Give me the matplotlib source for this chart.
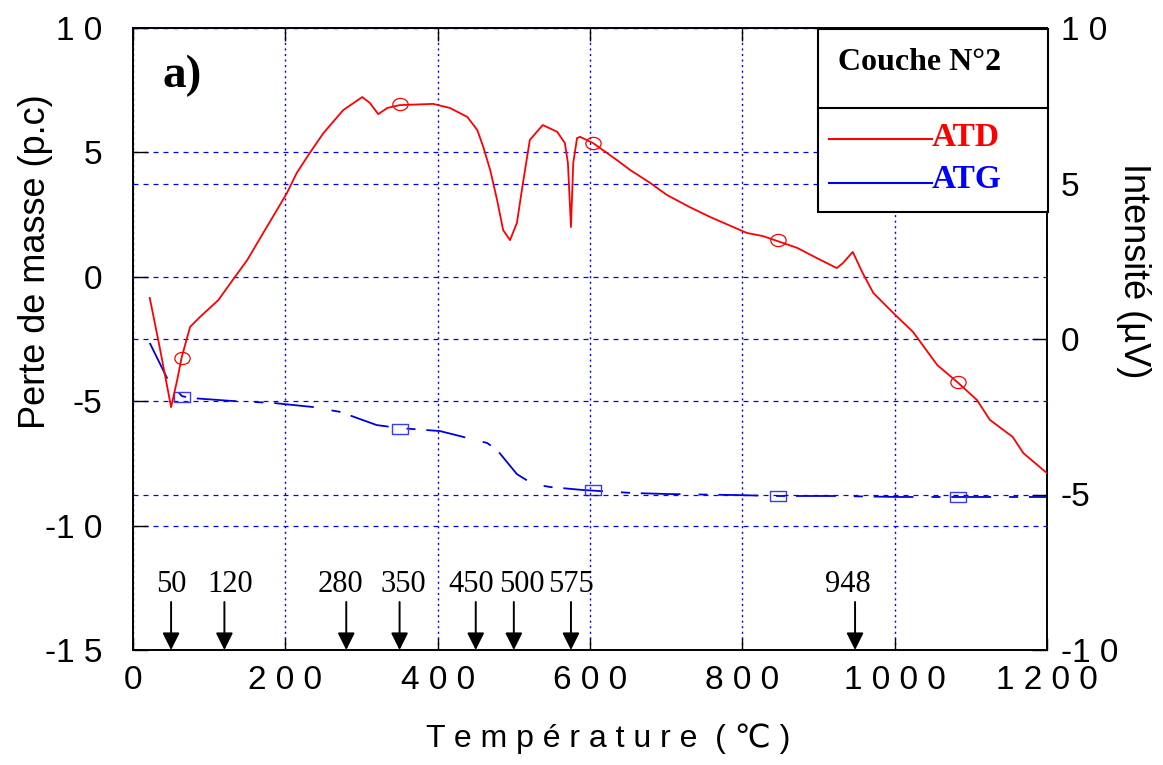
import matplotlib
matplotlib.use('Agg')
import matplotlib.pyplot as plt
from matplotlib.patches import Rectangle
from matplotlib.lines import Line2D
from matplotlib.path import Path

plt.rcParams['font.family'] = ['Liberation Sans', 'DejaVu Sans']

W, H = 1163, 765

# ATD curve (right axis, µV)
atd_temp = [22, 35, 50, 58, 64, 75, 88, 112, 131, 150, 171, 189, 202, 215, 232, 250, 276, 301,
            311, 322, 334, 350, 394, 416, 439, 452, 460, 469, 478, 486, 495, 504, 512, 521,
            538, 557, 567, 571, 575, 578, 583, 587, 604, 635, 653, 679, 701, 731, 758, 788,
            806, 827, 846, 872, 898, 924, 932, 945, 958, 972, 998, 1024, 1056, 1082, 1108,
            1125, 1155, 1169, 1195, 1200]
atd_val = [1.32, -0.26, -2.19, -1.32, -0.58, 0.39, 0.71, 1.25, 1.90, 2.54, 3.41, 4.15, 4.69,
           5.34, 5.98, 6.62, 7.36, 7.78, 7.59, 7.23, 7.43, 7.52, 7.56, 7.43, 7.14, 6.72, 6.17,
           5.43, 4.47, 3.50, 3.18, 3.73, 5.02, 6.40, 6.88, 6.66, 6.30, 5.66, 3.60, 5.66, 6.46,
           6.50, 6.30, 5.76, 5.43, 5.02, 4.63, 4.24, 3.92, 3.60, 3.41, 3.31, 3.15, 2.93, 2.60,
           2.28, 2.44, 2.80, 2.12, 1.48, 0.84, 0.23, -0.84, -1.38, -1.96, -2.60, -3.15, -3.67,
           -4.21, -4.31]
atd_mark_temp = [64, 350, 604, 847, 1083]
atd_mark_val = [-0.61, 7.56, 6.30, 3.18, -1.38]

# ATG curve (left axis, p.c)
atg_temp = [22, 46, 64, 75, 130, 184, 235, 272, 320, 350, 403, 429, 465, 478, 504, 525, 548,
            591, 656, 701, 788, 847, 919, 1007, 1083, 1200]
atg_val = [-2.66, -4.15, -4.79, -4.87, -4.99, -5.07, -5.23, -5.43, -5.96, -6.08, -6.20, -6.40,
           -6.68, -6.96, -7.93, -8.33, -8.45, -8.57, -8.69, -8.73, -8.77, -8.81, -8.81, -8.85,
           -8.85, -8.85]
atg_mark_temp = [64, 350, 604, 847, 1083]
atg_mark_val = [-4.83, -6.10, -8.57, -8.81, -8.85]

# transition temperatures marked with arrows
peaks = [50, 120, 280, 350, 450, 500, 575, 948]
peak_dx = [0, 4, -4, 3, -3, 6, 0, -5]  # label nudges (points)


def fx(x):
    return x / W


def fy(y):
    return 1 - y / H


fig = plt.figure(figsize=(W / 100, H / 100), dpi=100)
ax = fig.add_axes([fx(133), fy(650), 914 / W, 622 / H])
ax2 = ax.twinx()

blue = '#0000ff'
red = '#ff0000'

# grids
ax.set_axisbelow(True)
ax.grid(axis='x', color=blue, linestyle=(0, (1.5, 2.5)), linewidth=1.0)
ax.grid(axis='y', color=blue, linestyle=(0, (4, 4)), linewidth=0.9)
ax2.grid(axis='y', color=blue, linestyle=(0, (4, 4)), linewidth=0.9)
ax2.set_axisbelow(True)

# ATG (blue, left)
ax.plot(atg_temp, atg_val, color='#0000e0', linewidth=1.3, dashes=(22, 10, 5, 6), zorder=3)
rect = Path([(-1, -0.65), (1, -0.65), (1, 0.65), (-1, 0.65), (-1, -0.65)])
ax.plot(atg_mark_temp, atg_mark_val, linestyle='none', marker=rect, markersize=12,
        markerfacecolor='none', markeredgecolor='#3a3aff', markeredgewidth=1.0, zorder=3)

# ATD (red, right)
circ = Path.unit_circle()
ell = Path(circ.vertices * [1, 0.8], circ.codes)
ax2.plot(atd_temp, atd_val, color=red, linewidth=1.3, zorder=3)
ax2.plot(atd_mark_temp, atd_mark_val, linestyle='none', marker=ell, markersize=11,
         markerfacecolor='none', markeredgecolor=red, markeredgewidth=0.9, zorder=3)

ax.set_xlim(0, 1200)
ax.set_ylim(-15, 10)
ax2.set_ylim(-10, 10)

ax.set_xticks([0, 200, 400, 600, 800, 1000, 1200])
ax.set_xticklabels(['0', '2 0 0', '4 0 0', '6 0 0', '8 0 0', '1 0 0 0', '1 2 0 0'])
ax.set_yticks([-15, -10, -5, 0, 5, 10])
ax.set_yticklabels(['-1 5', '-1 0', '-5', '0', '5', '1 0'])
ax2.set_yticks([-10, -5, 0, 5, 10])
ax2.set_yticklabels(['-1 0', '-5', '0', '5', '1 0'])

ax.tick_params(axis='x', direction='in', length=9, width=1.0, top=True, labelsize=24, pad=11)
ax.tick_params(axis='y', direction='in', length=11, width=1.0, labelsize=24, pad=22)
ax2.tick_params(axis='y', direction='in', length=11, width=1.0, labelsize=24, pad=10)

for a in (ax, ax2):
    for s in a.spines.values():
        s.set_linewidth(1.2)
        s.set_color('black')

# arrows and labels
for t, dx in zip(peaks, peak_dx):
    ax.annotate('', xy=(t, -15), xytext=(t, -13.07),
                arrowprops=dict(arrowstyle='-|>', mutation_scale=26, lw=1.4,
                                color='black', shrinkA=0, shrinkB=0))
    ax.annotate(str(t), xy=(t, -12.35), xytext=(dx, 0), textcoords='offset points',
                ha='center', va='center', fontsize=22, family='Liberation Serif')

# panel label
fig.text(fx(182), fy(76), 'a)', fontsize=34, fontweight='bold', family='Liberation Serif',
         ha='center', va='center')

# legend box
ax2.add_patch(Rectangle((fx(818), fy(212)), (1048 - 818) / W, 183 / H, transform=fig.transFigure,
                        facecolor='white', edgecolor='black', linewidth=1.5, zorder=10,
                        clip_on=False))
fig.add_artist(Line2D([fx(818), fx(1048)], [fy(108), fy(108)], color='black', linewidth=1.5,
                      zorder=11))
fig.text(fx(920), fy(62), 'Couche N°2', fontsize=23, fontweight='bold', family='Liberation Serif',
         ha='center', va='center', zorder=12)
fig.add_artist(Line2D([fx(829), fx(932)], [fy(139), fy(139)], color=red, linewidth=1.5, zorder=11))
fig.add_artist(Line2D([fx(829), fx(932)], [fy(183), fy(183)], color=blue, linewidth=1.5, zorder=11))
fig.text(fx(932), fy(138), 'ATD', fontsize=24, fontweight='bold', family='Liberation Serif',
         color=red, ha='left', va='center', zorder=12)
fig.text(fx(932), fy(179), 'ATG', fontsize=24, fontweight='bold', family='Liberation Serif',
         color=blue, ha='left', va='center', zorder=12)

# axis titles
fig.text(fx(36), fy(262), 'Perte de masse (p.c)', rotation=90, fontsize=26, ha='center', va='center')
fig.text(fx(1133), fy(271), 'Intensité (µV)', rotation=-90, fontsize=26, ha='center', va='center')
fig.text(fx(608), fy(739), 'T e m p é r a t u r e  ( ℃ )', fontsize=23, ha='center', va='center')

fig.savefig('out.png', dpi=100)
